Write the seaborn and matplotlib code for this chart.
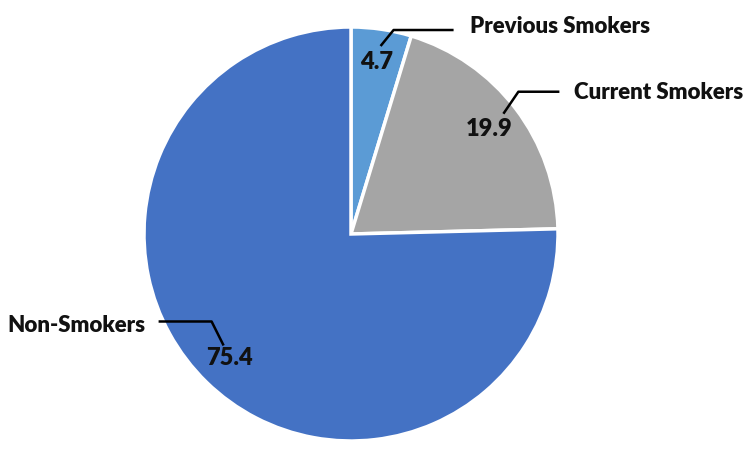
import matplotlib
matplotlib.use("Agg")
import matplotlib.pyplot as plt
import seaborn as sns

# Data
categories = ["Previous Smokers", "Current Smokers", "Non-Smokers"]
values = [4.7, 19.9, 75.4]
colors = sns.color_palette(["#5B9BD5", "#A5A5A5", "#4472C4"])

# Leader line offsets (px) relative to each value label, and category text offset
leader_offsets = [
    [(4, 16), (17, 32), (77, 32)],
    [(14, 15), (29, 37), (70, 37)],
    [(-6, 13), (-18, 37), (-71, 37)],
]
text_offsets = [(93, 36), (85, 36), (-84, 33)]
text_align = ["left", "left", "right"]

sns.set_style("white")
plt.rcParams["font.family"] = ["Lato", "DejaVu Sans"]

fig = plt.figure(figsize=(7.5, 4.51), dpi=100)
ax = fig.add_axes([0, 0, 1, 1])

wedges, texts, autotexts = ax.pie(
    values,
    colors=colors,
    startangle=90,
    counterclock=False,
    center=(351, 217),
    radius=207,
    autopct="%.1f",
    pctdistance=0.84,
    wedgeprops=dict(edgecolor="white", linewidth=2.5),
    textprops=dict(fontsize=17, fontweight="heavy", color="#111111"),
    frame=True,
)
ax.set_xlim(0, 750)
ax.set_ylim(0, 451)
ax.set_aspect("equal")
ax.axis("off")

for at, offs, toff, ha, name in zip(autotexts, leader_offsets, text_offsets, text_align, categories):
    x0, y0 = at.get_position()
    xs = [x0 + o[0] for o in offs]
    ys = [y0 + o[1] for o in offs]
    ax.plot(xs, ys, color="black", linewidth=1.8, solid_capstyle="butt")
    ax.text(x0 + toff[0], y0 + toff[1], name, ha=ha, va="center",
            fontsize=16, fontweight="heavy", color="#111111")

plt.savefig("out.png", dpi=100, facecolor="white")
